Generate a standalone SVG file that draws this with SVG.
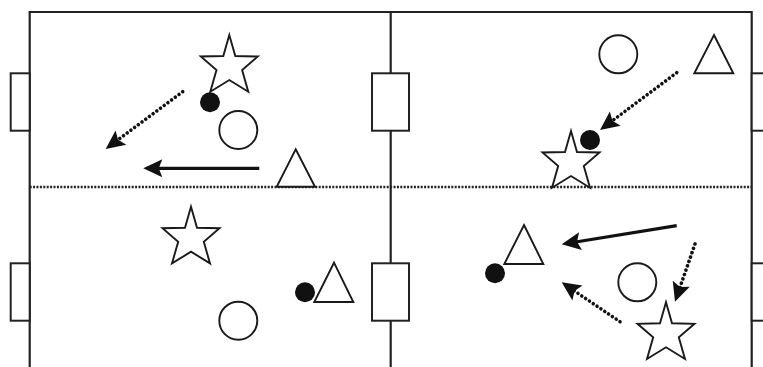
<svg xmlns="http://www.w3.org/2000/svg" width="763" height="367" viewBox="0 0 763 367">
  <style>
    .field { fill: none; stroke: #222; stroke-width: 2.2; }
    .goal { fill: #fff; stroke: #222; stroke-width: 2; }
    .half { fill: none; stroke: #222; stroke-width: 2.6; stroke-dasharray: 2 1.4; }
    .shape { fill: #fff; stroke: #1a1a1a; stroke-width: 1.9; stroke-linejoin: miter; }
    .ball { fill: #111; }
    .pass { fill: none; stroke: #111; stroke-width: 3.2; }
    .run { fill: none; stroke: #111; stroke-width: 3.6; stroke-linecap: round; stroke-dasharray: 0.01 4.6; }
    .head { fill: #111; }
  </style>
  <defs>
    <marker id="arrow" markerUnits="userSpaceOnUse" orient="auto" markerWidth="1" markerHeight="1" refX="0" refY="0" overflow="visible">
      <path class="head" d="M11,0 L-8,-9 L-4.5,0 L-8,9 Z"/>
    </marker>
    <polygon id="star" class="shape" points="0,0 6,21 28.5,21.5 12.8,35 19,56.7 0,45 -19,56.7 -12.8,35 -28.5,21.5 -6,21"/>
  </defs>

  <g id="pitch">
    <line class="field" x1="29.7" y1="12" x2="751.7" y2="12"/>
    <line class="field" x1="29.7" y1="11" x2="29.7" y2="367"/>
    <line class="field" x1="390.7" y1="11" x2="390.7" y2="367"/>
    <line class="field" x1="751.7" y1="11" x2="751.7" y2="367"/>
    <line class="half" x1="29.7" y1="187" x2="751.7" y2="187"/>
    <rect class="goal" x="10.7" y="73.3" width="19" height="57.4"/>
    <rect class="goal" x="372" y="73.3" width="37" height="57.4"/>
    <rect class="goal" x="751.7" y="73.3" width="20" height="57.4"/>
    <rect class="goal" x="10.7" y="263.3" width="19" height="57.4"/>
    <rect class="goal" x="372" y="263.3" width="37" height="57.4"/>
    <rect class="goal" x="751.7" y="263.3" width="20" height="57.4"/>
  </g>

  <g id="connectors">
    <line class="run" x1="182.7" y1="91.7" x2="114.5" y2="142.4" marker-end="url(#arrow)"/>
    <line class="pass" x1="259.3" y1="168.3" x2="154.3" y2="168.3" marker-end="url(#arrow)"/>
    <line class="run" x1="676.7" y1="72.7" x2="608.8" y2="123.4" marker-end="url(#arrow)"/>
    <line class="pass" x1="676.7" y1="225.7" x2="572.6" y2="242.5" marker-end="url(#arrow)"/>
    <line class="run" x1="695" y1="244" x2="678.6" y2="291.3" marker-end="url(#arrow)"/>
    <line class="run" x1="620" y1="321.7" x2="570.8" y2="288.5" marker-end="url(#arrow)"/>
  </g>

  <!-- top-left quadrant -->
  <g id="tl-star"><use href="#star" x="229.3" y="35"/></g>
  <g id="tl-ball"><circle class="ball" cx="210" cy="102.3" r="10"/></g>
  <g id="tl-circle"><circle class="shape" cx="238.3" cy="130" r="19"/></g>
  <g id="tl-triangle"><polygon class="shape" points="295.7,149.3 315,186.7 276.7,186.7"/></g>

  <!-- top-right quadrant -->
  <g id="tr-circle"><circle class="shape" cx="618.3" cy="54.3" r="19"/></g>
  <g id="tr-triangle"><polygon class="shape" points="714,35 733.3,73.3 694.3,73.3"/></g>
  <g id="tr-star"><use href="#star" x="571" y="131"/></g>
  <g id="tr-ball"><circle class="ball" cx="590" cy="140" r="10"/></g>

  <!-- bottom-left quadrant -->
  <g id="bl-star"><use href="#star" x="191" y="206.7"/></g>
  <g id="bl-ball"><circle class="ball" cx="305" cy="292.3" r="10"/></g>
  <g id="bl-triangle"><polygon class="shape" points="334,262.7 353.3,302 314.3,302"/></g>
  <g id="bl-circle"><circle class="shape" cx="238.3" cy="320.7" r="19"/></g>

  <!-- bottom-right quadrant -->
  <g id="br-triangle"><polygon class="shape" points="524,225 543.3,264 504.3,264"/></g>
  <g id="br-ball"><circle class="ball" cx="495" cy="273.3" r="10"/></g>
  <g id="br-circle"><circle class="shape" cx="637.3" cy="282.3" r="19"/></g>
  <g id="br-star"><use href="#star" x="666" y="302.3"/></g>
</svg>
